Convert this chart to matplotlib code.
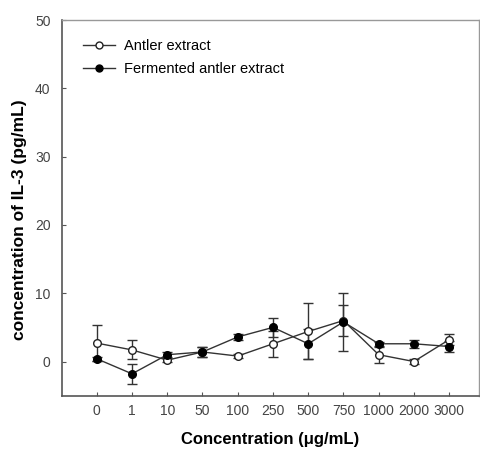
import numpy as np
import matplotlib
matplotlib.use("Agg")
import matplotlib.pyplot as plt
from matplotlib.lines import Line2D

plt.rcParams['font.family'] = ['Liberation Sans', 'DejaVu Sans']

# data
concentrations = ['0', '1', '10', '50', '100', '250', '500', '750', '1000', '2000', '3000']
antler = [2.7, 1.7, 0.2, 1.4, 0.8, 2.6, 4.4, 6.0, 1.0, 0.0, 3.2]
antler_err = [2.6, 1.4, 0.3, 0.7, 0.3, 1.9, 4.1, 2.3, 1.2, 0.4, 0.8]
fermented = [0.4, -1.8, 1.0, 1.4, 3.6, 5.0, 2.6, 5.8, 2.6, 2.6, 2.2]
fermented_err = [0.3, 1.5, 0.4, 0.8, 0.5, 1.4, 2.2, 4.3, 0.3, 0.6, 0.8]

x = np.arange(1, len(concentrations) + 1)

fig = plt.figure(figsize=(4.81, 4.59), dpi=100)
ax = fig.add_axes([0.128, 0.138, 0.868, 0.818])

ax.errorbar(x, antler, yerr=antler_err, color='#333333', marker='o', markersize=5.5,
            markerfacecolor='white', markeredgecolor='#222222', linewidth=1.0,
            elinewidth=1.0, capsize=3.5)
ax.errorbar(x, fermented, yerr=fermented_err, color='#333333', marker='o', markersize=5.5,
            markerfacecolor='black', markeredgecolor='black', linewidth=1.0,
            elinewidth=1.0, capsize=3.5)

ax.set_xlim(0, 11.85)
ax.set_ylim(-5, 50)
ax.set_xticks(x)
ax.set_xticklabels(concentrations)
ax.set_yticks([0, 10, 20, 30, 40, 50])
ax.tick_params(direction='in', length=3, labelsize=10, labelcolor='#444444', color='#555555')
ax.tick_params(axis='x', pad=6)
ax.tick_params(axis='y', pad=8)

for side in ['left', 'bottom']:
    ax.spines[side].set_color('#555555')
    ax.spines[side].set_linewidth(1.2)
for side in ['top', 'right']:
    ax.spines[side].set_color('#999999')
    ax.spines[side].set_linewidth(1.0)

ax.set_xlabel('Concentration (μg/mL)', fontsize=12, fontweight='bold', labelpad=10)
ax.set_ylabel('concentration of IL-3 (pg/mL)', fontsize=12.5, fontweight='bold')
ax.yaxis.set_label_coords(-0.083, 0.47)

handles = [
    Line2D([], [], color='#333333', marker='o', markersize=5, markerfacecolor='white',
           markeredgecolor='#222222', linewidth=1.0),
    Line2D([], [], color='#333333', marker='o', markersize=5, markerfacecolor='black',
           markeredgecolor='black', linewidth=1.0),
]
ax.legend(handles, ['Antler extract', 'Fermented antler extract'], loc='upper left',
          frameon=False, fontsize=10.5, bbox_to_anchor=(0.02, 0.985),
          handlelength=2.2, handletextpad=0.6, labelspacing=0.6)

fig.savefig('out.png', dpi=100)
